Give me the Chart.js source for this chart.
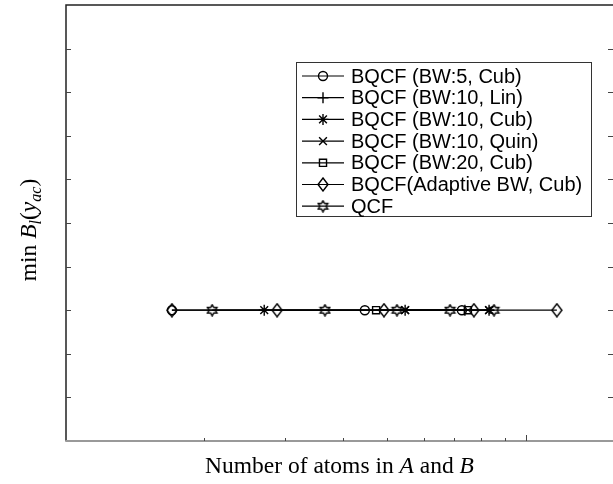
<!DOCTYPE html>
<html>
<head>
<meta charset="utf-8">
<script src="https://cdn.jsdelivr.net/npm/chart.js@4.4.0/dist/chart.umd.min.js"></script>
<style>
  html, body { margin: 0; padding: 0; background: #fff; }
  #wrap { width: 613px; height: 484px; }
</style>
</head>
<body>
<div id="wrap"><canvas id="chart"></canvas></div>
<script>
// series names (legend order)
const seriesNames = [
  "BQCF (BW:5, Cub)",
  "BQCF (BW:10, Lin)",
  "BQCF (BW:10, Cub)",
  "BQCF (BW:10, Quin)",
  "BQCF (BW:20, Cub)",
  "BQCF(Adaptive BW, Cub)",
  "QCF"
];

// number of atoms (x) and min B value (y) per series
const bw5CubAtoms = [1700, 4470, 7270];
const bw5CubMinB = [3, 3, 3];
const bw10LinAtoms = [7380];
const bw10LinMinB = [3];
const bw10CubAtoms = [2700, 5470, 8330];
const bw10CubMinB = [3, 3, 3];
const bw10QuinAtoms = [5470, 8330];
const bw10QuinMinB = [3, 3];
const bw20CubAtoms = [4730, 7490];
const bw20CubMinB = [3, 3];
const adaptiveAtoms = [1700, 2880, 4920, 7720, 11700];
const adaptiveMinB = [3, 3, 3, 3, 3];
const qcfAtoms = [2080, 3660, 5250, 6850, 8540];
const qcfMinB = [3, 3, 3, 3, 3];

// axis ticks (no labels shown in the figure)
const yTicks = [1, 2, 3, 4, 5, 6, 7, 8, 9];
const xMinorTicks = [2000, 3000, 4000, 5000, 6000, 7000, 8000, 9000];
const xMajorTicks = [10000];

function outlineMarker(w, h, pts) {
  const c = document.createElement("canvas");
  c.width = w; c.height = h;
  const g = c.getContext("2d");
  g.strokeStyle = "#000";
  g.lineWidth = 1.4;
  g.beginPath();
  pts.forEach((p, i) => i ? g.lineTo(p[0], p[1]) : g.moveTo(p[0], p[1]));
  g.closePath();
  g.stroke();
  return c;
}

// MATLAB style diamond (taller than wide)
const diamond = outlineMarker(12, 15, [[6, 1], [11, 7.5], [6, 14], [1, 7.5]]);

// hexagram
const hexPts = [];
for (let i = 0; i < 12; i++) {
  const a = -Math.PI / 2 + i * Math.PI / 6;
  const r = i % 2 === 0 ? 5.5 : 3.2;
  hexPts.push([6.5 + r * Math.cos(a), 6.5 + r * Math.sin(a)]);
}
const hexagram = outlineMarker(13, 13, hexPts);

function toPoints(xs, ys) {
  return xs.map((x, i) => ({ x: x, y: ys[i] }));
}

function series(i, xs, ys, style, radius) {
  return {
    label: seriesNames[i],
    data: toPoints(xs, ys),
    borderColor: "#000",
    borderWidth: 1.2,
    pointStyle: style,
    pointRadius: radius,
    pointBorderColor: "#000",
    pointBackgroundColor: "rgba(0,0,0,0)",
    pointBorderWidth: 1.4,
    fill: false,
    tension: 0
  };
}

const datasets = [
  series(0, bw5CubAtoms, bw5CubMinB, "circle", 4.5),
  series(1, bw10LinAtoms, bw10LinMinB, "cross", 5.5),
  series(2, bw10CubAtoms, bw10CubMinB, "star", 5.5),
  series(3, bw10QuinAtoms, bw10QuinMinB, "crossRot", 5.5),
  series(4, bw20CubAtoms, bw20CubMinB, "rect", 5),
  series(5, adaptiveAtoms, adaptiveMinB, diamond, 6),
  series(6, qcfAtoms, qcfMinB, hexagram, 6)
];

const serif = "'Liberation Serif', 'Times New Roman', serif";

function drawRuns(ctx, runs, x, y) {
  // runs: [text, font, dy]
  let w = 0;
  runs.forEach(r => { ctx.font = r[1]; w += ctx.measureText(r[0]).width; });
  let cx = x - w / 2;
  runs.forEach(r => {
    ctx.font = r[1];
    ctx.fillText(r[0], cx, y + (r[2] || 0));
    cx += ctx.measureText(r[0]).width;
  });
}

const framePlugin = {
  id: "frame",
  beforeDatasetsDraw(chart) {
    const ctx = chart.ctx;
    const a = chart.chartArea;
    const xs = chart.scales.x, ys = chart.scales.y;
    ctx.save();
    ctx.lineWidth = 1.5;
    ctx.strokeStyle = "#222";
    ctx.beginPath();
    ctx.moveTo(a.left, a.bottom);
    ctx.lineTo(a.left, a.top);
    ctx.lineTo(a.right + 2, a.top);
    ctx.stroke();
    ctx.strokeStyle = "#999";
    ctx.lineWidth = 2;
    ctx.beginPath();
    ctx.moveTo(a.left - 0.75, a.bottom);
    ctx.lineTo(a.right + 2, a.bottom);
    ctx.stroke();
    ctx.strokeStyle = "#444";
    ctx.lineWidth = 1;
    ctx.beginPath();
    yTicks.forEach(v => {
      const py = Math.round(ys.getPixelForValue(v)) + 0.5;
      ctx.moveTo(a.left, py); ctx.lineTo(a.left + 5, py);
      ctx.moveTo(a.right, py); ctx.lineTo(a.right - 5, py);
    });
    xMinorTicks.forEach(v => {
      const px = Math.round(xs.getPixelForValue(v)) + 0.5;
      ctx.moveTo(px, a.bottom); ctx.lineTo(px, a.bottom - 3);
    });
    xMajorTicks.forEach(v => {
      const px = Math.round(xs.getPixelForValue(v)) + 0.5;
      ctx.moveTo(px, a.bottom); ctx.lineTo(px, a.bottom - 6);
    });
    ctx.stroke();
    ctx.restore();
  },
  afterDraw(chart) {
    const ctx = chart.ctx;
    const a = chart.chartArea;
    ctx.save();
    ctx.fillStyle = "#000";
    ctx.textBaseline = "alphabetic";
    // x axis title
    const rm = "23.5px " + serif, it = "italic 23.5px " + serif;
    drawRuns(ctx, [["Number of atoms in ", rm], ["A", it], [" and ", rm], ["B", it]],
      (a.left + a.right) / 2, 473);
    // y axis title
    ctx.translate(36, (a.top + a.bottom) / 2 + 7);
    ctx.rotate(-Math.PI / 2);
    const sub = "italic 16px " + serif;
    drawRuns(ctx, [["min ", rm], ["B", it], ["l", sub, 5], ["(", rm], ["y", it], ["ac", sub, 5], [")", rm]], 0, 0);
    ctx.restore();

    // legend
    ctx.save();
    const bx = 296, by = 62, bw = 295, bh = 154;
    ctx.fillStyle = "#fff";
    ctx.fillRect(bx, by, bw, bh);
    ctx.strokeStyle = "#333";
    ctx.lineWidth = 1;
    ctx.strokeRect(bx + 0.5, by + 0.5, bw, bh);
    ctx.font = "20px 'Liberation Sans', Arial, sans-serif";
    ctx.textBaseline = "middle";
    chart.data.datasets.forEach((ds, i) => {
      const y = by + 14 + i * 21.7;
      ctx.strokeStyle = "#000";
      ctx.lineWidth = 1.2;
      ctx.beginPath();
      ctx.moveTo(302, y); ctx.lineTo(344, y);
      ctx.stroke();
      ctx.fillStyle = "rgba(0,0,0,0)";
      ctx.lineWidth = 1.4;
      Chart.helpers.drawPoint(ctx, {
        pointStyle: ds.pointStyle, radius: ds.pointRadius, rotation: 0, borderWidth: 1.4
      }, 323, y);
      ctx.fillStyle = "#000";
      ctx.fillText(ds.label, 351, y + 1);
    });
    ctx.restore();
  }
};

new Chart(document.getElementById("chart"), {
  type: "line",
  data: { datasets: datasets },
  options: {
    responsive: true,
    maintainAspectRatio: false,
    animation: false,
    layout: { autoPadding: false, padding: { left: 66, top: 5, right: 0, bottom: 43 } },
    plugins: { legend: { display: false }, tooltip: { enabled: false } },
    scales: {
      x: { type: "logarithmic", min: 1000, max: 15500, display: false },
      y: { type: "linear", min: 0, max: 10, display: false }
    }
  },
  plugins: [framePlugin]
});
</script>
</body>
</html>
